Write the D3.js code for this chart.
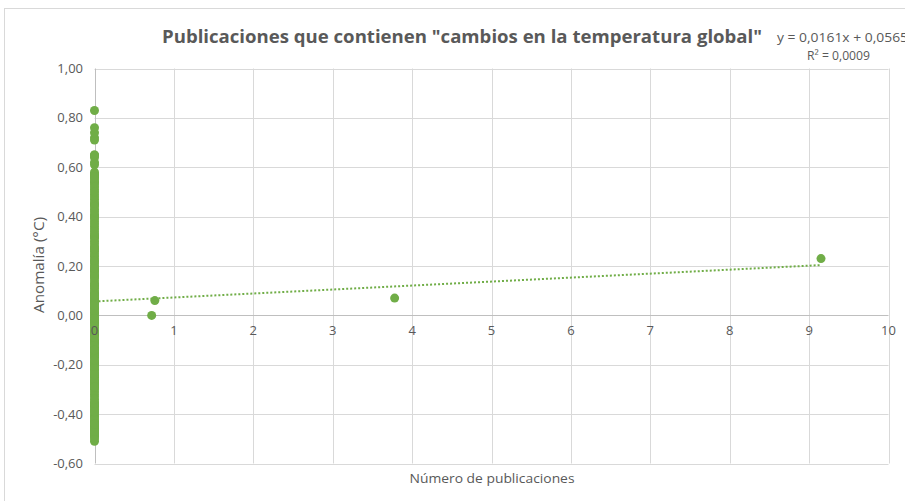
<!DOCTYPE html>
<html>
<head>
<meta charset="utf-8">
<script src="https://cdn.jsdelivr.net/npm/d3@7"></script>
<style>
  body { margin: 0; background: #fff; }
  text { font-family: "Open Sans", sans-serif; fill: #595959; }
</style>
</head>
<body>
<script>
var width = 905, height = 501;

// anomalies for years with zero publications
var zeroPubAnomaly = [
  -0.32, -0.25, -0.28, -0.37, -0.46, -0.41, -0.38, -0.46, -0.36, -0.20,
  -0.45, -0.41, -0.43, -0.48, -0.40, -0.36, -0.19, -0.17, -0.39, -0.25,
  -0.16, -0.24, -0.37, -0.44, -0.51, -0.35, -0.27, -0.47, -0.49, -0.48,
  -0.45, -0.49, -0.44, -0.43, -0.27, -0.15, -0.36, -0.46, -0.30, -0.27,
  -0.27, -0.19, -0.29, -0.27, -0.27, -0.22, -0.11, -0.22, -0.20, -0.36,
  -0.16, -0.10, -0.16, -0.29, -0.13, -0.20, -0.15, -0.03, 0.00, -0.02,
  0.13, 0.19, 0.07, 0.09, 0.20, 0.09, -0.07, -0.03, -0.11, -0.11,
  -0.17, -0.07, 0.01, 0.08, -0.13, -0.14, -0.19, 0.05, 0.06, 0.03,
  -0.03, 0.06, 0.03, 0.05, -0.20, -0.11, -0.06, -0.02, -0.08, 0.05,
  0.03, -0.08, 0.01, 0.16, -0.07, -0.01, -0.10, 0.18, 0.07, 0.16,
  0.26, 0.32, 0.14, 0.31, 0.16, 0.12, 0.18, 0.32, 0.39, 0.27,
  0.45, 0.41, 0.22, 0.23, 0.32, 0.45, 0.33, 0.47, 0.56, 0.40,
  0.40, 0.54, 0.57, 0.61, 0.54, 0.65, 0.64, 0.57, 0.72, 0.71,
  0.76, 0.74, 0.62, 0.65, 0.53, 0.83,
  -0.42, -0.33, -0.50, -0.23, -0.31, -0.47, -0.12, -0.39, -0.26, -0.05,
  -0.21, -0.34, -0.09, -0.44, -0.18, -0.29, -0.14, -0.04, -0.24, -0.01,
  0.10, 0.02, 0.21, 0.15, 0.04, 0.28, 0.11, 0.24, 0.17, 0.30,
  0.36, 0.25, 0.43, 0.12, 0.38, 0.29, 0.49, 0.22, 0.35, 0.46,
  0.51, 0.37, 0.44, 0.55, 0.42, 0.48, 0.52, 0.50, 0.34, 0.19,
  0.58, 0.27, 0.08, 0.56
];

// years with at least one publication
var pubCount = [0.72, 0.76, 3.78, 9.15];
var pubAnomaly = [0.00, 0.06, 0.07, 0.23];

var trend = { slope: 0.0161, intercept: 0.0565 };
var yTicks = [-0.6, -0.4, -0.2, 0, 0.2, 0.4, 0.6, 0.8, 1.0];
var xTicks = [0, 1, 2, 3, 4, 5, 6, 7, 8, 9, 10];

var green = "#70ad47";
var fmt = function (d) { return d3.format(".2f")(d).replace(".", ",").replace("\u2212", "-"); };

var points = zeroPubAnomaly.map(function (v) { return [0, v]; })
  .concat(pubCount.map(function (c, i) { return [c, pubAnomaly[i]]; }));

var x = d3.scaleLinear().domain([0, 10]).range([94.5, 888.5]);
var y = d3.scaleLinear().domain([-0.6, 1.0]).range([463.5, 68.5]);

var svg = d3.select("body").append("svg")
  .attr("width", width)
  .attr("height", height);

// chart area border
svg.append("rect")
  .attr("x", 4.5).attr("y", 8.5)
  .attr("width", 940).attr("height", 540)
  .attr("fill", "#fff")
  .attr("stroke", "#d9d9d9");

// gridlines
svg.append("g").selectAll("line")
  .data(yTicks.filter(function (d) { return d !== 0; }))
  .enter().append("line")
  .attr("x1", x(0)).attr("x2", x(10))
  .attr("y1", function (d) { return Math.round(y(d)) + 0.5; })
  .attr("y2", function (d) { return Math.round(y(d)) + 0.5; })
  .attr("stroke", "#d9d9d9");

svg.append("g").selectAll("line")
  .data(xTicks.filter(function (d) { return d !== 0; }))
  .enter().append("line")
  .attr("x1", function (d) { return Math.round(x(d)) + 0.5; })
  .attr("x2", function (d) { return Math.round(x(d)) + 0.5; })
  .attr("y1", y(1.0)).attr("y2", y(-0.6))
  .attr("stroke", "#d9d9d9");

// axis lines
svg.append("line")
  .attr("x1", x(0)).attr("x2", x(10))
  .attr("y1", Math.round(y(0)) + 0.5).attr("y2", Math.round(y(0)) + 0.5)
  .attr("stroke", "#bfbfbf");
svg.append("line")
  .attr("x1", Math.round(x(0)) + 0.5).attr("x2", Math.round(x(0)) + 0.5)
  .attr("y1", y(1.0)).attr("y2", y(-0.6))
  .attr("stroke", "#bfbfbf");

// linear trendline
var maxX = d3.max(points, function (d) { return d[0]; });
svg.append("line")
  .attr("x1", x(0)).attr("y1", y(trend.intercept))
  .attr("x2", x(maxX)).attr("y2", y(trend.intercept + trend.slope * maxX))
  .attr("stroke", green)
  .attr("stroke-width", 2)
  .attr("stroke-dasharray", "2,2");

// points
svg.append("g").selectAll("circle")
  .data(points)
  .enter().append("circle")
  .attr("cx", function (d) { return x(d[0]); })
  .attr("cy", function (d) { return y(d[1]); })
  .attr("r", 4.5)
  .attr("fill", green);

// y tick labels
svg.append("g").selectAll("text")
  .data(yTicks)
  .enter().append("text")
  .attr("x", 83)
  .attr("y", function (d) { return y(d); })
  .attr("dy", "0.35em")
  .attr("text-anchor", "end")
  .style("font-size", "13px")
  .text(fmt);

// x tick labels
svg.append("g").selectAll("text")
  .data(xTicks)
  .enter().append("text")
  .attr("x", function (d) { return x(d); })
  .attr("y", y(0) + 20)
  .attr("text-anchor", "middle")
  .style("font-size", "13px")
  .text(function (d) { return d; });

// title
svg.append("text")
  .attr("x", 162).attr("y", 43)
  .attr("textLength", 600)
  .attr("lengthAdjust", "spacingAndGlyphs")
  .style("font-size", "18px")
  .style("font-weight", "bold")
  .text('Publicaciones que contienen "cambios en la temperatura global"');

// trendline equation
svg.append("text")
  .attr("x", 777).attr("y", 42)
  .attr("textLength", 131)
  .attr("lengthAdjust", "spacingAndGlyphs")
  .style("font-size", "12px")
  .text("y = 0,0161x + 0,0565");
svg.append("text")
  .attr("x", 807).attr("y", 60)
  .attr("textLength", 63)
  .attr("lengthAdjust", "spacingAndGlyphs")
  .style("font-size", "12px")
  .text("R² = 0,0009");

// axis titles
svg.append("text")
  .attr("x", 492).attr("y", 483)
  .attr("text-anchor", "middle")
  .attr("textLength", 165)
  .attr("lengthAdjust", "spacingAndGlyphs")
  .style("font-size", "13px")
  .text("Número de publicaciones");

svg.append("text")
  .attr("transform", "translate(44," + 265 + ") rotate(-90)")
  .attr("text-anchor", "middle")
  .attr("textLength", 96)
  .attr("lengthAdjust", "spacingAndGlyphs")
  .style("font-size", "14px")
  .text("Anomalía (°C)");
</script>
</body>
</html>
